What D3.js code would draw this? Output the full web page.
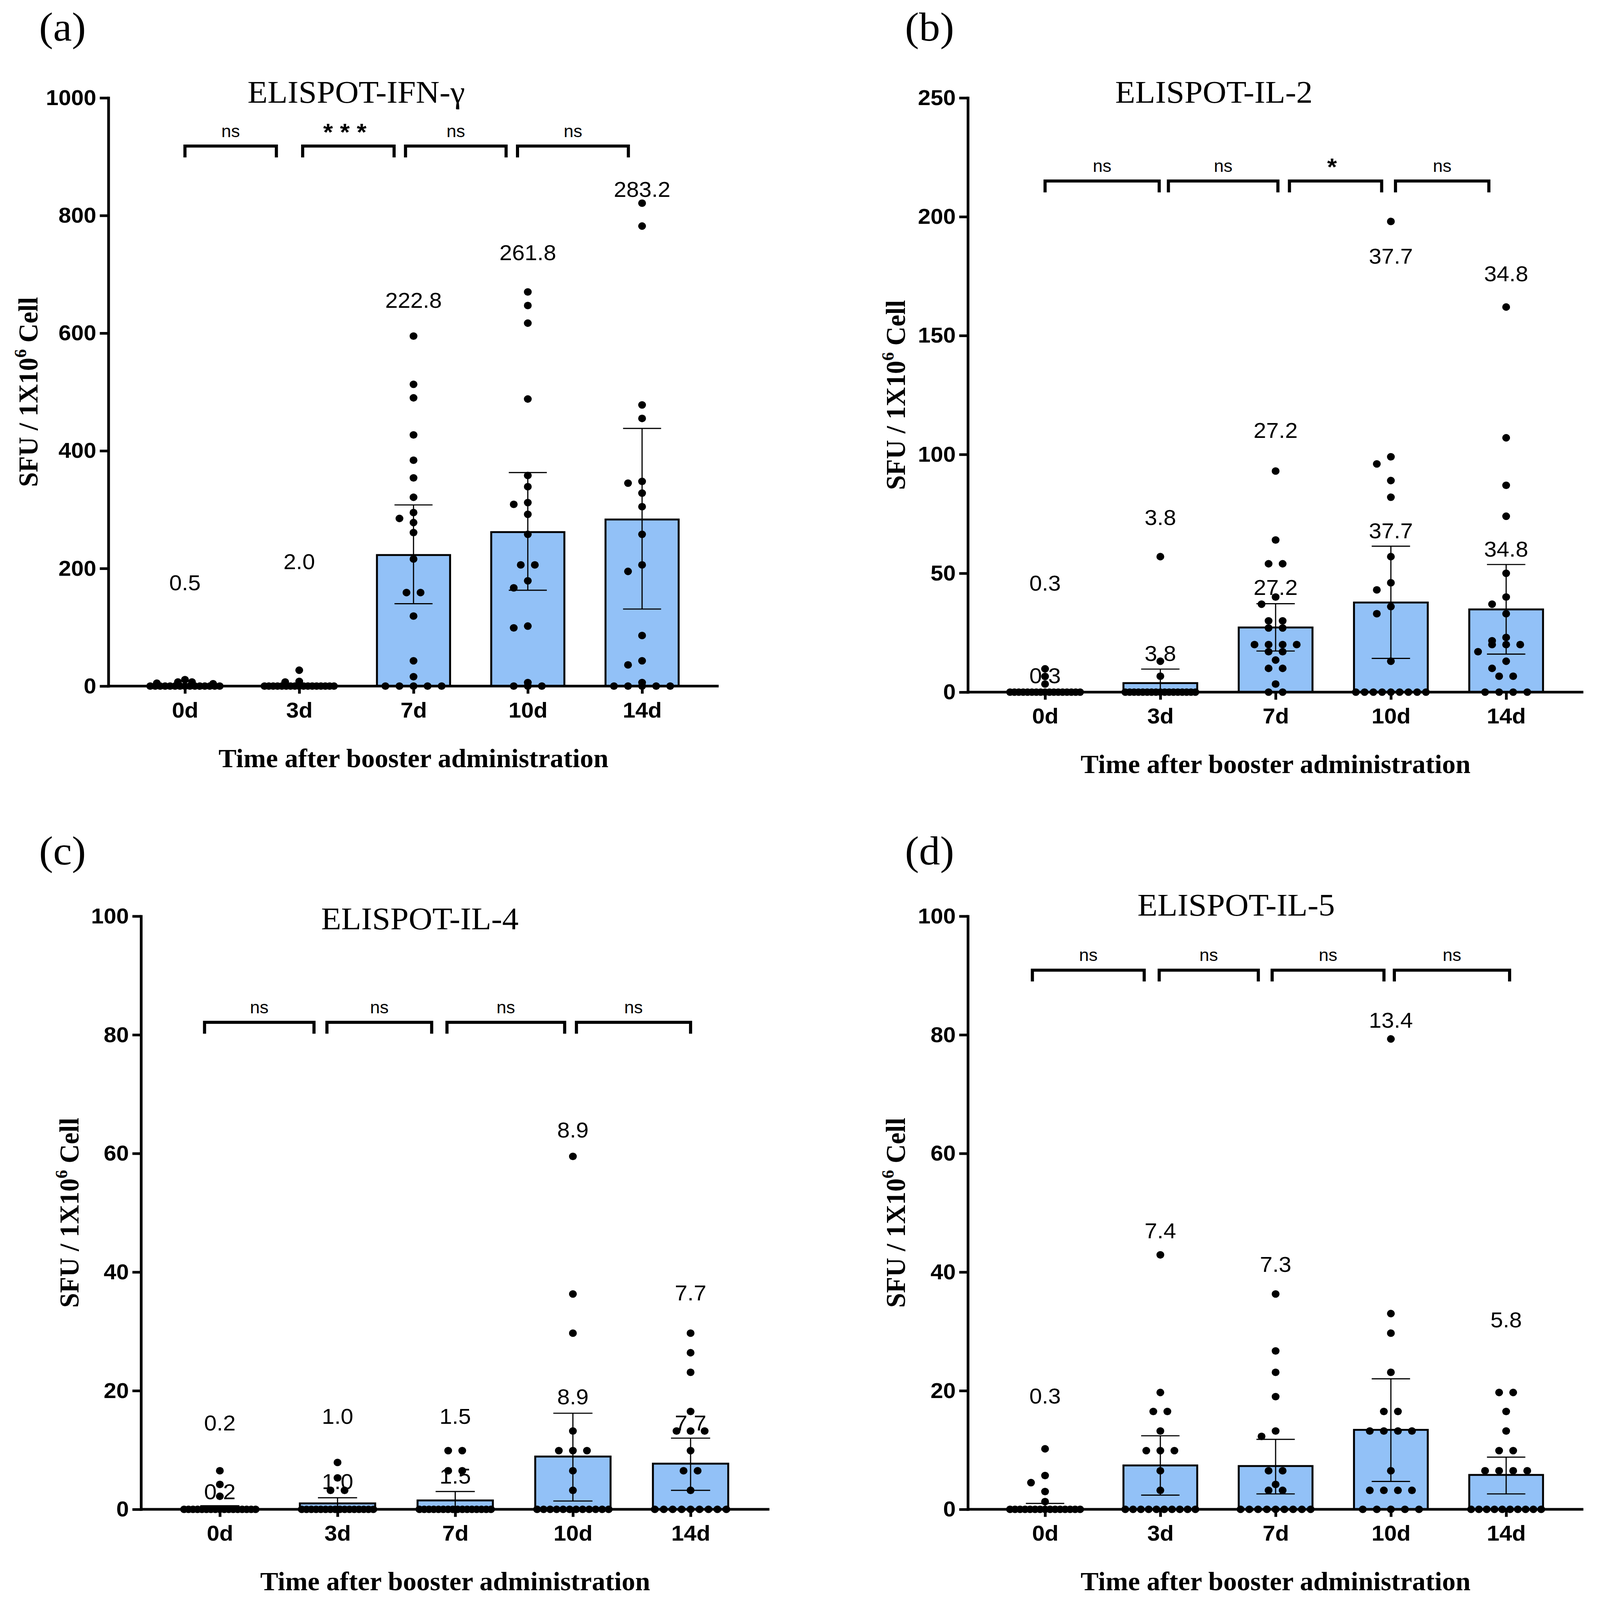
<!DOCTYPE html>
<html><head><meta charset="utf-8">
<script src="https://cdn.jsdelivr.net/npm/d3@7"></script>
<style>html,body{margin:0;padding:0;background:#fff;overflow:hidden}svg{display:block;width:100vw;height:100vh}</style>
</head><body>
<svg id="chart" viewBox="0 0 4094 4235" preserveAspectRatio="none" xmlns="http://www.w3.org/2000/svg"></svg>
<script>
// ---------------- DATA ----------------
const categories = ["0d", "3d", "7d", "10d", "14d"];

// Panel (a) ELISPOT-IFN-γ
const ifnTicks = [0, 200, 400, 600, 800, 1000];
const ifnMeans = [0.5, 2.0, 222.8, 261.8, 283.2];
const ifnErrHi = [1.5, 4.5, 308, 363, 438];
const ifnErrLo = [0, 0, 140, 163, 131];
const ifnPoints = [
  [11, 7, 7, 5, 4, 0, 0, 0, 0, 0, 0, 0, 0, 0, 0, 0, 0, 0, 0, 0],
  [27, 8, 7, 0, 0, 0, 0, 0, 0, 0, 0, 0, 0, 0, 0, 0, 0, 0, 0, 0],
  [595, 513, 490, 427, 384, 354, 321, 295, 285, 278, 261, 216, 159, 159, 119, 43, 16, 0, 0, 0, 0, 0],
  [670, 647, 617, 488, 358, 339, 312, 309, 292, 258, 206, 206, 179, 167, 102, 99, 6, 0, 0, 0],
  [821, 782, 478, 455, 348, 345, 328, 305, 258, 206, 195, 86, 43, 36, 6, 0, 0, 0, 0, 0]
];
const ifnLabelUpper = [176, 212, 656, 737, 845];
const ifnLabelLower = null;
const ifnSig = ["ns", "***", "ns", "ns"];
const ifnBracketSpans = [[0, 0.8], [1.03, 1.83], [1.93, 2.81], [2.91, 3.88]];
const ifnBracketLevel = 918;

// Panel (b) ELISPOT-IL-2
const il2Ticks = [0, 50, 100, 150, 200, 250];
const il2Means = [0.3, 3.8, 27.2, 37.7, 34.8];
const il2ErrHi = [1.0, 9.7, 37.2, 61.4, 53.7];
const il2ErrLo = [0, 0, 17.3, 14.2, 16.0];
const il2Points = [
  [9.8, 6.6, 3.4, 0, 0, 0, 0, 0, 0, 0, 0, 0, 0, 0, 0, 0, 0, 0, 0, 0],
  [57, 13, 6.7, 0, 0, 0, 0, 0, 0, 0, 0, 0, 0, 0, 0, 0, 0, 0, 0, 0],
  [93, 64, 54, 54, 40, 37, 30, 30, 27, 27, 20, 20, 20, 20, 17, 17, 13.5, 10, 10, 3.4, 0, 0],
  [198, 99, 96, 89, 82, 57, 46, 43, 36, 33, 13, 0, 0, 0, 0, 0, 0, 0, 0, 0],
  [162, 107, 87, 74, 50, 40, 37, 33, 23, 21.6, 20, 20, 20, 17, 13, 10, 6.7, 6.7, 0, 0, 0, 0]
];
const il2LabelUpper = [45.9, 73.6, 110.2, 183.5, 176];
const il2LabelLower = [7.0, 16.4, 44.2, 68, 60.2];
const il2Sig = ["ns", "ns", "*", "ns"];
const il2BracketSpans = [[0, 0.99], [1.07, 2.02], [2.12, 2.92], [3.04, 3.85]];
const il2BracketLevel = 215;

// Panel (c) ELISPOT-IL-4
const il4Ticks = [0, 20, 40, 60, 80, 100];
const il4Means = [0.2, 1.0, 1.5, 8.9, 7.7];
const il4ErrHi = [0.6, 1.95, 3.0, 16.2, 12.0];
const il4ErrLo = [0, 0.05, 0, 1.4, 3.2];
const il4Points = [
  [6.5, 4.2, 2.2, 0, 0, 0, 0, 0, 0, 0, 0, 0, 0, 0, 0, 0, 0, 0, 0, 0],
  [7.9, 5.3, 3.2, 3.2, 0, 0, 0, 0, 0, 0, 0, 0, 0, 0, 0, 0, 0, 0, 0, 0],
  [9.9, 9.9, 6.5, 6.5, 0, 0, 0, 0, 0, 0, 0, 0, 0, 0, 0, 0, 0, 0, 0, 0],
  [59.5, 36.3, 29.7, 13.2, 9.9, 9.9, 9.9, 6.5, 3.2, 0, 0, 0, 0, 0, 0, 0, 0, 0, 0, 0, 0],
  [29.7, 26.4, 23.1, 16.5, 13.2, 13.2, 13.2, 9.9, 6.5, 6.5, 3.2, 0, 0, 0, 0, 0, 0, 0, 0, 0]
];
const il4LabelUpper = [14.6, 15.7, 15.7, 64, 36.5];
const il4LabelLower = [3.0, 4.7, 5.6, 19, 14.6];
const il4Sig = ["ns", "ns", "ns", "ns"];
const il4BracketSpans = [[-0.13, 0.8], [0.91, 1.8], [1.93, 2.93], [3.03, 4.0]];
const il4BracketLevel = 82.1;

// Panel (d) ELISPOT-IL-5
const il5Ticks = [0, 20, 40, 60, 80, 100];
const il5Means = [0.3, 7.4, 7.3, 13.4, 5.8];
const il5ErrHi = [1.0, 12.4, 11.8, 22.0, 8.8];
const il5ErrLo = [0, 2.4, 2.6, 4.7, 2.6];
const il5Points = [
  [10.2, 5.7, 4.5, 3.0, 1.3, 0, 0, 0, 0, 0, 0, 0, 0, 0, 0, 0, 0, 0, 0, 0],
  [42.9, 19.7, 16.5, 16.5, 13.2, 9.9, 9.9, 9.9, 6.5, 3.2, 0, 0, 0, 0, 0, 0, 0, 0, 0, 0],
  [36.3, 26.7, 23.1, 19.0, 13.2, 12.3, 6.5, 6.5, 4.2, 3.2, 3.2, 0, 0, 0, 0, 0, 0, 0, 0, 0],
  [79.3, 33, 29.7, 23.1, 16.5, 16.5, 13.2, 13.2, 13.2, 13.2, 6.5, 3.2, 3.2, 3.2, 3.2, 0, 0, 0, 0, 0],
  [19.7, 19.7, 16.5, 13.2, 9.9, 9.9, 6.5, 6.5, 6.5, 6.5, 0, 0, 0, 0, 0, 0, 0, 0, 0, 0]
];
const il5LabelUpper = [19.1, 47, 41.3, 82.5, 32];
const il5LabelLower = null;
const il5Sig = ["ns", "ns", "ns", "ns"];
const il5BracketSpans = [[-0.11, 0.86], [0.99, 1.85], [1.97, 2.94], [3.03, 4.03]];
const il5BracketLevel = 90.9;

const titles = ["ELISPOT-IFN-γ", "ELISPOT-IL-2", "ELISPOT-IL-4", "ELISPOT-IL-5"];
const panelLetters = ["(a)", "(b)", "(c)", "(d)"];
const xAxisTitle = "Time after booster administration";

// ---------------- DRAWING ----------------
const SANS = "'Liberation Sans', Arial, Helvetica, sans-serif";
const SERIF = "'Liberation Serif', 'Times New Roman', Times, serif";
const BAR_FILL = "#92C1F7";
const DOT_R = 10;

const svg = d3.select("#chart");
svg.append("rect").attr("width", 4094).attr("height", 4235).attr("fill", "#fff");

const panels = [
  { box: {left: 277.5, right: 1840, top: 259, bottom: 1816}, title: [912, 243], letter: [100, 70], ylab: 71,
    ticks: ifnTicks, means: ifnMeans, hi: ifnErrHi, lo: ifnErrLo, pts: ifnPoints,
    lu: ifnLabelUpper, ll: ifnLabelLower, sig: ifnSig, spans: ifnBracketSpans, level: ifnBracketLevel },
  { box: {left: 2478, right: 4054, top: 259, bottom: 1832}, title: [3108, 243], letter: [2317, 70], ylab: 2292,
    ticks: il2Ticks, means: il2Means, hi: il2ErrHi, lo: il2ErrLo, pts: il2Points,
    lu: il2LabelUpper, ll: il2LabelLower, sig: il2Sig, spans: il2BracketSpans, level: il2BracketLevel },
  { box: {left: 361, right: 1970, top: 2425, bottom: 3995}, title: [1075, 2430], letter: [100, 2250], ylab: 176,
    ticks: il4Ticks, means: il4Means, hi: il4ErrHi, lo: il4ErrLo, pts: il4Points,
    lu: il4LabelUpper, ll: il4LabelLower, sig: il4Sig, spans: il4BracketSpans, level: il4BracketLevel },
  { box: {left: 2478, right: 4054, top: 2425, bottom: 3995}, title: [3165, 2394], letter: [2317, 2250], ylab: 2292,
    ticks: il5Ticks, means: il5Means, hi: il5ErrHi, lo: il5ErrLo, pts: il5Points,
    lu: il5LabelUpper, ll: il5LabelLower, sig: il5Sig, spans: il5BracketSpans, level: il5BracketLevel }
];

function layoutDots(values, cx, y, r, step, maxW) {
  const counts = d3.rollups(values, v => v.length, d => d).sort((a, b) => b[0] - a[0]);
  const placed = [];
  counts.forEach(([v, n]) => {
    const py = y(v);
    if (n === 1) {
      const cands = [0, -step, step, -2 * step, 2 * step];
      let dx = 0;
      for (const c of cands) {
        const ok = placed.every(p => Math.hypot(p.x - (cx + c), p.y - py) >= 2 * r * 0.95);
        if (ok) { dx = c; break; }
      }
      placed.push({x: cx + dx, y: py});
    } else {
      const s = Math.min(step, maxW / (n - 1));
      for (let i = 0; i < n; i++) placed.push({x: cx + (i - (n - 1) / 2) * s, y: py});
    }
  });
  return placed;
}

panels.forEach((p, pi) => {
  const {left, right, top, bottom} = p.box;
  const g = svg.append("g");
  const x = d3.scalePoint().domain(categories).range([left, right]).padding(0.67);
  const step = x.step();
  const bw = step * 0.64;
  const ymax = p.ticks[p.ticks.length - 1];
  const y = d3.scaleLinear().domain([0, ymax]).range([bottom, top]);
  const xf = u => x(categories[0]) + u * step;

  // bars
  g.selectAll("rect.bar").data(p.means).join("rect")
    .attr("x", (d, i) => x(categories[i]) - bw / 2)
    .attr("y", d => y(d))
    .attr("width", bw)
    .attr("height", d => bottom - y(d))
    .attr("fill", BAR_FILL).attr("stroke", "#000").attr("stroke-width", 5);

  // error bars
  const capW = bw * 0.26;
  p.means.forEach((m, i) => {
    const cx = x(categories[i]);
    g.append("line").attr("x1", cx).attr("x2", cx).attr("y1", y(p.lo[i])).attr("y2", y(p.hi[i]))
      .attr("stroke", "#000").attr("stroke-width", 3);
    g.append("line").attr("x1", cx - capW).attr("x2", cx + capW).attr("y1", y(p.hi[i])).attr("y2", y(p.hi[i]))
      .attr("stroke", "#000").attr("stroke-width", 3);
    if (p.lo[i] > 0) {
      g.append("line").attr("x1", cx - capW).attr("x2", cx + capW).attr("y1", y(p.lo[i])).attr("y2", y(p.lo[i]))
        .attr("stroke", "#000").attr("stroke-width", 3);
    }
  });

  // axes
  const yAxis = d3.axisLeft(y).tickValues(p.ticks).tickFormat(d3.format("d"))
    .tickSize(22).tickSizeOuter(0).tickPadding(9);
  const ya = g.append("g").attr("transform", `translate(${left},0)`).call(yAxis);
  ya.select(".domain").attr("stroke-width", 7).attr("stroke", "#000").attr("stroke-linecap", "square");
  ya.selectAll(".tick line").attr("stroke-width", 7).attr("stroke", "#000");
  ya.selectAll(".tick text").attr("font-family", SANS).attr("font-weight", "bold").attr("font-size", 58).attr("fill", "#000");

  const xAxis = d3.axisBottom(x).tickSize(20).tickSizeOuter(0).tickPadding(22);
  const xa = g.append("g").attr("transform", `translate(0,${bottom})`).call(xAxis);
  xa.select(".domain").attr("d", `M${left},0H${right}`).attr("stroke-width", 7).attr("stroke", "#000");
  xa.selectAll(".tick line").attr("stroke-width", 7).attr("stroke", "#000");
  xa.selectAll(".tick text").attr("font-family", SANS).attr("font-weight", "bold").attr("font-size", 58).attr("fill", "#000");

  // mean labels
  const labelSets = [p.lu, p.ll].filter(Boolean);
  labelSets.forEach(ls => {
    g.selectAll(null).data(ls).join("text")
      .attr("x", (d, i) => x(categories[i]))
      .attr("y", d => y(d)).attr("dy", "0.35em")
      .attr("text-anchor", "middle").attr("font-family", SANS).attr("font-size", 58)
      .text((d, i) => p.means[i].toFixed(1));
  });

  // individual points
  p.pts.forEach((vals, i) => {
    const cx = x(categories[i]);
    const dots = layoutDots(vals, cx, y, DOT_R, 36, bw * 0.95);
    g.selectAll(null).data(dots).join("circle")
      .attr("cx", d => d.x).attr("cy", d => d.y).attr("r", DOT_R).attr("fill", "#000");
  });

  // significance brackets
  const by = y(p.level);
  p.spans.forEach((s, k) => {
    const x1 = xf(s[0]), x2 = xf(s[1]);
    g.append("path").attr("d", `M${x1},${by + 30}V${by}H${x2}V${by + 30}`)
      .attr("fill", "none").attr("stroke", "#000").attr("stroke-width", 8).attr("stroke-linejoin", "miter");
    const star = p.sig[k] !== "ns";
    g.append("text").attr("x", (x1 + x2) / 2).attr("y", by - (star ? 16 : 24))
      .attr("text-anchor", "middle").attr("font-family", SANS)
      .attr("font-size", star ? 64 : 45).attr("font-weight", star ? "bold" : "normal")
      .attr("letter-spacing", star ? 18 : 0)
      .text(p.sig[k]);
  });

  // title
  g.append("text").attr("x", p.title[0]).attr("y", p.title[1]).attr("dy", "0.35em")
    .attr("text-anchor", "middle").attr("font-family", SERIF).attr("font-size", 84).text(titles[pi]);

  // panel letter
  g.append("text").attr("x", p.letter[0]).attr("y", p.letter[1]).attr("dy", "0.35em")
    .attr("font-family", SERIF).attr("font-size", 108).text(panelLetters[pi]);

  // y label
  const yl = g.append("text")
    .attr("transform", `translate(${p.ylab},${(top + bottom) / 2}) rotate(-90)`)
    .attr("text-anchor", "middle").attr("dy", "0.35em")
    .attr("font-family", SERIF).attr("font-weight", "bold").attr("font-size", 70);
  yl.append("tspan").text("SFU / 1X10");
  yl.append("tspan").attr("dy", -29).attr("font-size", 45).text("6");
  yl.append("tspan").attr("dy", 29).text(" Cell");

  // x title
  g.append("text").attr("x", x(categories[2])).attr("y", bottom + 190).attr("dy", "0.35em")
    .attr("text-anchor", "middle").attr("font-family", SERIF).attr("font-weight", "bold").attr("font-size", 69)
    .text(xAxisTitle);
});
</script>
</body></html>
